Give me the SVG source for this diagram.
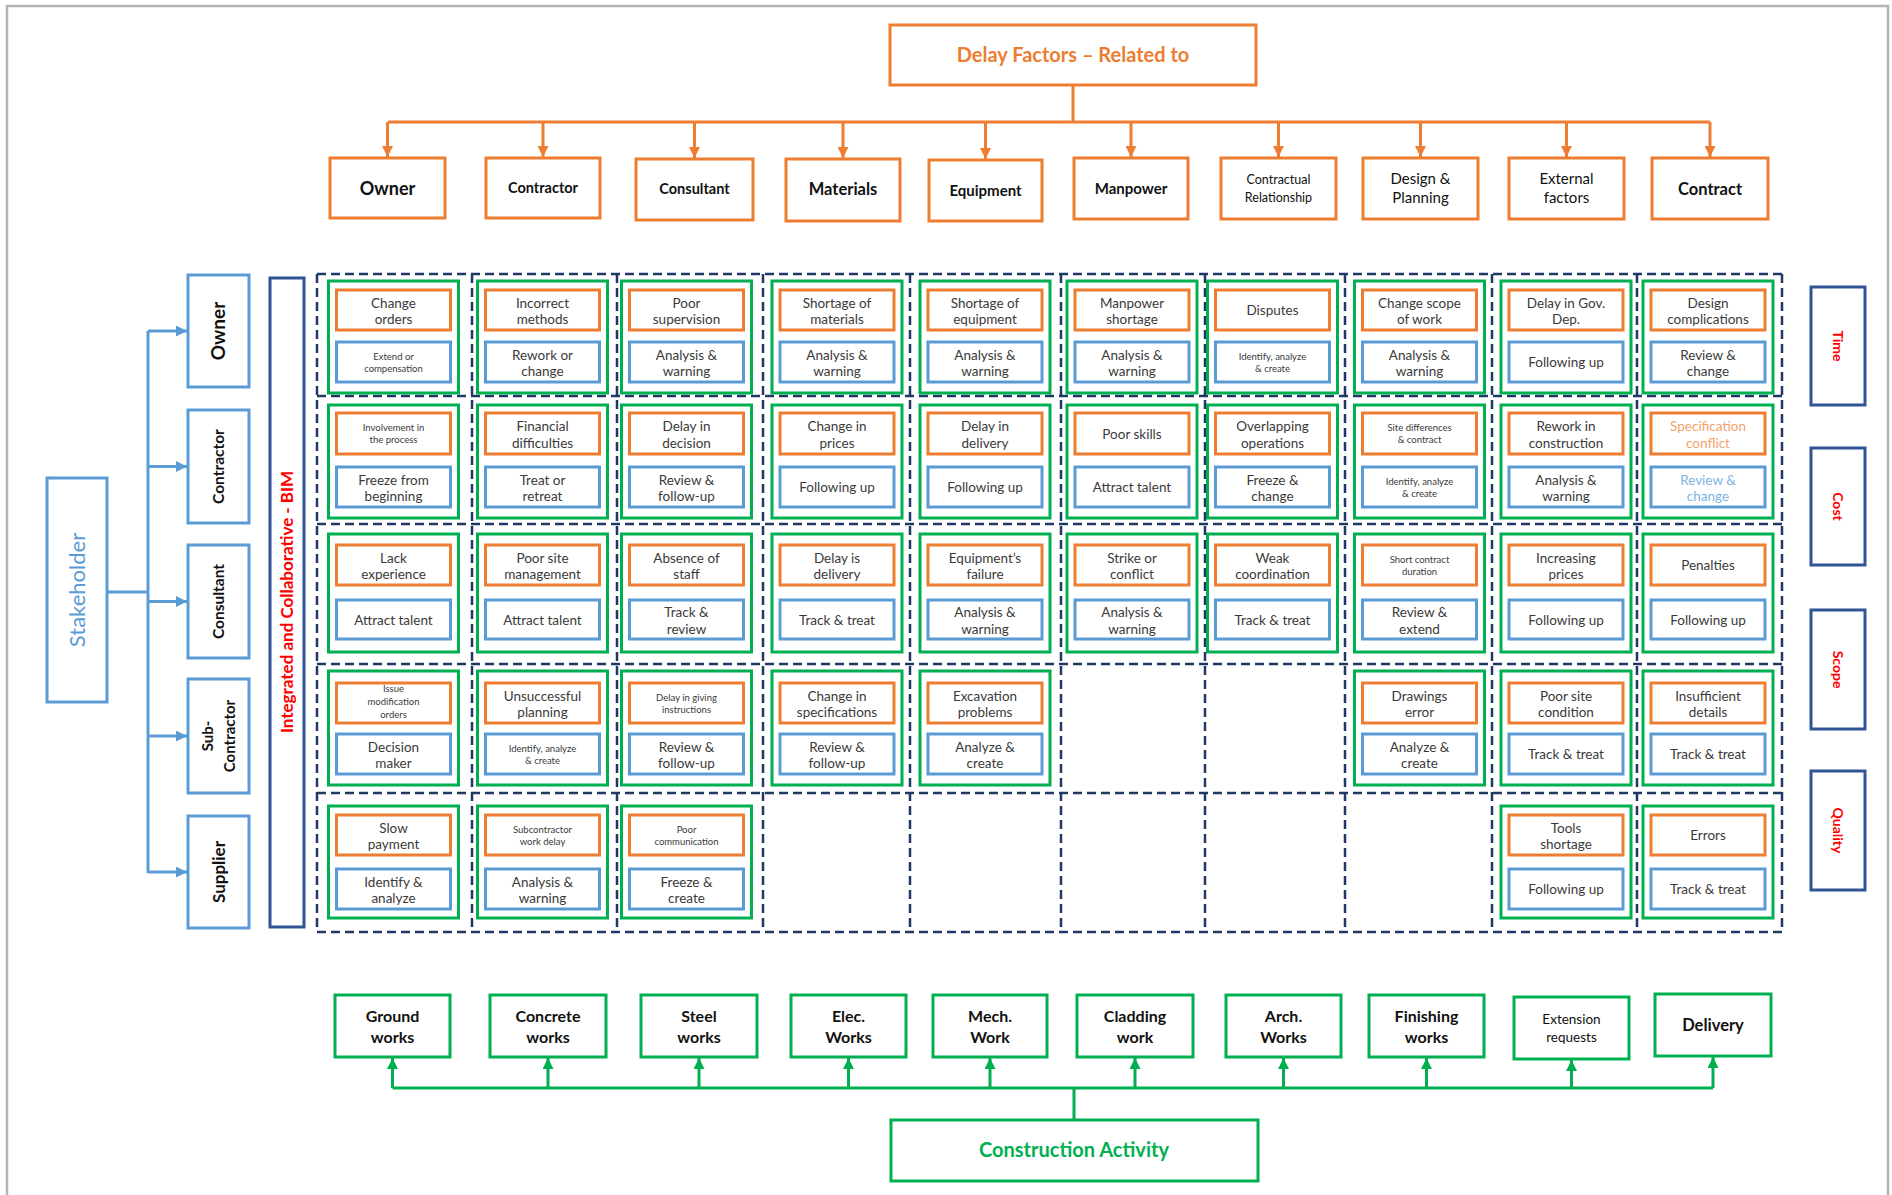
<svg xmlns="http://www.w3.org/2000/svg" width="1892" height="1195" viewBox="0 0 1892 1195">
<defs>
<style>
.g{fill:none;stroke:#00B050;stroke-width:3}
.o{fill:#fff;stroke:#ED7D31;stroke-width:3}
.b{fill:#fff;stroke:#5B9BD5;stroke-width:3}
.n{fill:#fff;stroke:#2F5496;stroke-width:3}
.d{fill:none;stroke:#1F3864;stroke-width:2.5;stroke-dasharray:9 5}
.t{font-family:Lato,"Liberation Sans",sans-serif;font-size:13.5px;fill:#3a3a3a;text-anchor:middle}
.s{font-size:9.5px}
.h{font-family:Lato,"Liberation Sans",sans-serif;font-weight:bold;fill:#111;text-anchor:middle}
.hn{font-family:Lato,"Liberation Sans",sans-serif;fill:#111;text-anchor:middle}
.oc{fill:none;stroke:#ED7D31;stroke-width:3}
.bc{fill:none;stroke:#5B9BD5;stroke-width:3}
.gc{fill:none;stroke:#00B050;stroke-width:3}
.red{font-family:Lato,"Liberation Sans",sans-serif;font-weight:bold;fill:#FF0000;text-anchor:middle}
</style>
<marker id="ao" viewBox="0 0 10 10" refX="10" refY="5" markerWidth="11" markerHeight="11" markerUnits="userSpaceOnUse" orient="auto"><path d="M0,0 L10,5 L0,10 z" fill="#ED7D31"/></marker>
<marker id="ab" viewBox="0 0 10 10" refX="10" refY="5" markerWidth="11" markerHeight="11" markerUnits="userSpaceOnUse" orient="auto"><path d="M0,0 L10,5 L0,10 z" fill="#5B9BD5"/></marker>
<marker id="ag" viewBox="0 0 10 10" refX="10" refY="5" markerWidth="11" markerHeight="11" markerUnits="userSpaceOnUse" orient="auto"><path d="M0,0 L10,5 L0,10 z" fill="#00B050"/></marker>
</defs>
<rect x="0" y="0" width="1892" height="1195" fill="#fff"/>
<rect x="7" y="6" width="1881" height="1200" fill="none" stroke="#b4b4b4" stroke-width="2.5"/>

<!-- Connectors -->
<g id="connectors">
<path class="oc" d="M1073 85 V122 M388 122 H1710"/>
<path class="oc" marker-end="url(#ao)" d="M387.5 122 V157"/>
<path class="oc" marker-end="url(#ao)" d="M543 122 V157"/>
<path class="oc" marker-end="url(#ao)" d="M694.5 122 V158"/>
<path class="oc" marker-end="url(#ao)" d="M843 122 V158"/>
<path class="oc" marker-end="url(#ao)" d="M985.5 122 V159"/>
<path class="oc" marker-end="url(#ao)" d="M1131 122 V157"/>
<path class="oc" marker-end="url(#ao)" d="M1278.5 122 V157"/>
<path class="oc" marker-end="url(#ao)" d="M1420.5 122 V157"/>
<path class="oc" marker-end="url(#ao)" d="M1566.5 122 V157"/>
<path class="oc" marker-end="url(#ao)" d="M1710 122 V157"/>
<path class="bc" d="M107 592 H148 M148 331 V873"/>
<path class="bc" marker-end="url(#ab)" d="M148 331 H187"/>
<path class="bc" marker-end="url(#ab)" d="M148 466.5 H187"/>
<path class="bc" marker-end="url(#ab)" d="M148 601.5 H187"/>
<path class="bc" marker-end="url(#ab)" d="M148 736 H187"/>
<path class="bc" marker-end="url(#ab)" d="M148 872 H187"/>
<path class="gc" d="M1074 1120 V1088 M392.5 1088 H1713"/>
<path class="gc" marker-end="url(#ag)" d="M392.5 1088 V1058"/>
<path class="gc" marker-end="url(#ag)" d="M548 1088 V1058"/>
<path class="gc" marker-end="url(#ag)" d="M699 1088 V1058"/>
<path class="gc" marker-end="url(#ag)" d="M848.5 1088 V1058"/>
<path class="gc" marker-end="url(#ag)" d="M990 1088 V1058"/>
<path class="gc" marker-end="url(#ag)" d="M1135 1088 V1058"/>
<path class="gc" marker-end="url(#ag)" d="M1283.5 1088 V1058"/>
<path class="gc" marker-end="url(#ag)" d="M1426.5 1088 V1058"/>
<path class="gc" marker-end="url(#ag)" d="M1571.5 1088 V1060"/>
<path class="gc" marker-end="url(#ag)" d="M1713 1088 V1057"/>
</g>

<!-- Header -->
<g id="delay-factors"><rect class="o" x="890" y="25" width="366" height="60"/><text class="h" x="1073" y="62" style="font-size:20px;fill:#ED7D31">Delay Factors – Related to</text></g>
<g id="h-owner"><rect class="o" x="330" y="158" width="115" height="60"/><text class="h" x="387.5" y="195" style="font-size:18px">Owner</text></g>
<g id="h-contractor"><rect class="o" x="486" y="158" width="114" height="60"/><text class="h" x="543" y="193" style="font-size:14.5px">Contractor</text></g>
<g id="h-consultant"><rect class="o" x="636" y="159" width="117" height="61"/><text class="h" x="694.5" y="194" style="font-size:14.5px">Consultant</text></g>
<g id="h-materials"><rect class="o" x="786" y="159" width="114" height="62"/><text class="h" x="843" y="195" style="font-size:16.5px">Materials</text></g>
<g id="h-equipment"><rect class="o" x="929" y="160" width="113" height="61"/><text class="h" x="985.5" y="196" style="font-size:15px">Equipment</text></g>
<g id="h-manpower"><rect class="o" x="1074" y="158" width="114" height="61"/><text class="h" x="1131" y="194" style="font-size:15px">Manpower</text></g>
<g id="h-contractual"><rect class="o" x="1221" y="158" width="115" height="61"/><text class="hn" x="1278.5" y="184" style="font-size:12.5px">Contractual<tspan x="1278.5" dy="18">Relationship</tspan></text></g>
<g id="h-design"><rect class="o" x="1363" y="158" width="115" height="61"/><text class="hn" x="1420.5" y="184" style="font-size:15px">Design &amp;<tspan x="1420.5" dy="19">Planning</tspan></text></g>
<g id="h-external"><rect class="o" x="1509" y="158" width="115" height="61"/><text class="hn" x="1566.5" y="184" style="font-size:15px">External<tspan x="1566.5" dy="19">factors</tspan></text></g>
<g id="h-contract"><rect class="o" x="1652" y="158" width="116" height="61"/><text class="h" x="1710" y="195" style="font-size:16.5px">Contract</text></g>

<!-- Stakeholders -->
<g id="stakeholder"><rect class="b" x="47" y="478" width="60" height="224"/><text class="hn" transform="translate(77,590) rotate(-90)" y="7.5" style="font-size:22px;fill:#5B9BD5">Stakeholder</text></g>
<g id="s-owner"><rect class="b" x="188" y="275" width="61" height="112"/><text class="h" transform="translate(218.5,331) rotate(-90)" y="6.5" style="font-size:19px">Owner</text></g>
<g id="s-contractor"><rect class="b" x="188" y="410" width="61" height="113"/><text class="h" transform="translate(218.5,466.5) rotate(-90)" y="5.5" style="font-size:15.5px">Contractor</text></g>
<g id="s-consultant"><rect class="b" x="188" y="545" width="61" height="113"/><text class="h" transform="translate(218.5,601.5) rotate(-90)" y="5.5" style="font-size:15.5px">Consultant</text></g>
<g id="s-subcontractor"><rect class="b" x="188" y="679" width="61" height="114"/><text class="h" transform="translate(218.5,736) rotate(-90)" y="-6" style="font-size:15px">Sub-<tspan x="0" dy="22">Contractor</tspan></text></g>
<g id="s-supplier"><rect class="b" x="188" y="816" width="61" height="112"/><text class="h" transform="translate(218.5,872) rotate(-90)" y="6" style="font-size:17px">Supplier</text></g>
<g id="bim"><rect class="n" x="270" y="278" width="34" height="649"/><text class="red" transform="translate(287,602) rotate(-90)" y="6" style="font-size:17px">Integrated and Collaborative - BIM</text></g>

<!-- Right labels -->
<g id="time"><rect class="n" x="1811" y="287" width="54" height="118"/><text class="red" transform="translate(1838,346) rotate(90)" y="5" style="font-size:14px">Time</text></g>
<g id="cost"><rect class="n" x="1811" y="448" width="54" height="117"/><text class="red" transform="translate(1838,506.5) rotate(90)" y="5" style="font-size:14px">Cost</text></g>
<g id="scope"><rect class="n" x="1811" y="610" width="54" height="119"/><text class="red" transform="translate(1838,669.5) rotate(90)" y="5" style="font-size:14px">Scope</text></g>
<g id="quality"><rect class="n" x="1811" y="771" width="54" height="119"/><text class="red" transform="translate(1838,830.5) rotate(90)" y="5" style="font-size:14px">Quality</text></g>

<!-- Grid -->
<g id="grid">
<path class="d" d="M317 274 H1782 M317 396 H1782 M317 524 H1782 M317 664 H1782 M317 793 H1782 M317 932 H1782"/>
<path class="d" d="M317 274 V932 M472 274 V932 M617 274 V932 M763 274 V932 M910 274 V932 M1061 274 V932 M1205 274 V932 M1345 274 V932 M1492 274 V932 M1637 274 V932 M1782 274 V932"/>
</g>

<!-- Row 1 -->
<g id="r1c1"><rect class="g" x="328.5" y="281" width="130" height="112"/><rect class="o" x="336.5" y="290" width="114" height="40"/><rect class="b" x="336.5" y="342" width="114" height="40"/>
<text class="t" x="393.5" y="307.5">Change<tspan x="393.5" dy="16.5">orders</tspan></text><text class="t s" x="393.5" y="359.5">Extend  or<tspan x="393.5" dy="12">compensation</tspan></text></g>
<g id="r1c2"><rect class="g" x="477.5" y="281" width="130" height="112"/><rect class="o" x="485.5" y="290" width="114" height="40"/><rect class="b" x="485.5" y="342" width="114" height="40"/>
<text class="t" x="542.5" y="307.5">Incorrect<tspan x="542.5" dy="16.5">methods</tspan></text><text class="t" x="542.5" y="359.5">Rework or<tspan x="542.5" dy="16.5">change</tspan></text></g>
<g id="r1c3"><rect class="g" x="621.5" y="281" width="130" height="112"/><rect class="o" x="629.5" y="290" width="114" height="40"/><rect class="b" x="629.5" y="342" width="114" height="40"/>
<text class="t" x="686.5" y="307.5">Poor<tspan x="686.5" dy="16.5">supervision</tspan></text><text class="t" x="686.5" y="359.5">Analysis &amp;<tspan x="686.5" dy="16.5">warning</tspan></text></g>
<g id="r1c4"><rect class="g" x="772" y="281" width="130" height="112"/><rect class="o" x="780" y="290" width="114" height="40"/><rect class="b" x="780" y="342" width="114" height="40"/>
<text class="t" x="837" y="307.5">Shortage of<tspan x="837" dy="16.5">materials</tspan></text><text class="t" x="837" y="359.5">Analysis &amp;<tspan x="837" dy="16.5">warning</tspan></text></g>
<g id="r1c5"><rect class="g" x="920" y="281" width="130" height="112"/><rect class="o" x="928" y="290" width="114" height="40"/><rect class="b" x="928" y="342" width="114" height="40"/>
<text class="t" x="985" y="307.5">Shortage of<tspan x="985" dy="16.5">equipment</tspan></text><text class="t" x="985" y="359.5">Analysis &amp;<tspan x="985" dy="16.5">warning</tspan></text></g>
<g id="r1c6"><rect class="g" x="1067" y="281" width="130" height="112"/><rect class="o" x="1075" y="290" width="114" height="40"/><rect class="b" x="1075" y="342" width="114" height="40"/>
<text class="t" x="1132" y="307.5">Manpower<tspan x="1132" dy="16.5">shortage</tspan></text><text class="t" x="1132" y="359.5">Analysis &amp;<tspan x="1132" dy="16.5">warning</tspan></text></g>
<g id="r1c7"><rect class="g" x="1207.5" y="281" width="130" height="112"/><rect class="o" x="1215.5" y="290" width="114" height="40"/><rect class="b" x="1215.5" y="342" width="114" height="40"/>
<text class="t" x="1272.5" y="315">Disputes</text><text class="t s" x="1272.5" y="359.5">Identify, analyze<tspan x="1272.5" dy="12">&amp; create</tspan></text></g>
<g id="r1c8"><rect class="g" x="1354.5" y="281" width="130" height="112"/><rect class="o" x="1362.5" y="290" width="114" height="40"/><rect class="b" x="1362.5" y="342" width="114" height="40"/>
<text class="t" x="1419.5" y="307.5">Change scope<tspan x="1419.5" dy="16.5">of work</tspan></text><text class="t" x="1419.5" y="359.5">Analysis &amp;<tspan x="1419.5" dy="16.5">warning</tspan></text></g>
<g id="r1c9"><rect class="g" x="1501" y="281" width="130" height="112"/><rect class="o" x="1509" y="290" width="114" height="40"/><rect class="b" x="1509" y="342" width="114" height="40"/>
<text class="t" x="1566" y="307.5">Delay in Gov.<tspan x="1566" dy="16.5">Dep.</tspan></text><text class="t" x="1566" y="367">Following up</text></g>
<g id="r1c10"><rect class="g" x="1643" y="281" width="130" height="112"/><rect class="o" x="1651" y="290" width="114" height="40"/><rect class="b" x="1651" y="342" width="114" height="40"/>
<text class="t" x="1708" y="307.5">Design<tspan x="1708" dy="16.5">complications</tspan></text><text class="t" x="1708" y="359.5">Review &amp;<tspan x="1708" dy="16.5">change</tspan></text></g>

<!-- Row 2 -->
<g id="r2c1"><rect class="g" x="328.5" y="405" width="130" height="113"/><rect class="o" x="336.5" y="413" width="114" height="41"/><rect class="b" x="336.5" y="467" width="114" height="40"/>
<text class="t s" x="393.5" y="431">Involvement  in<tspan x="393.5" dy="12">the process</tspan></text><text class="t" x="393.5" y="484.5">Freeze from<tspan x="393.5" dy="16.5">beginning</tspan></text></g>
<g id="r2c2"><rect class="g" x="477.5" y="405" width="130" height="113"/><rect class="o" x="485.5" y="413" width="114" height="41"/><rect class="b" x="485.5" y="467" width="114" height="40"/>
<text class="t" x="542.5" y="431">Financial<tspan x="542.5" dy="16.5">difficulties</tspan></text><text class="t" x="542.5" y="484.5">Treat or<tspan x="542.5" dy="16.5">retreat</tspan></text></g>
<g id="r2c3"><rect class="g" x="621.5" y="405" width="130" height="113"/><rect class="o" x="629.5" y="413" width="114" height="41"/><rect class="b" x="629.5" y="467" width="114" height="40"/>
<text class="t" x="686.5" y="431">Delay in<tspan x="686.5" dy="16.5">decision</tspan></text><text class="t" x="686.5" y="484.5">Review &amp;<tspan x="686.5" dy="16.5">follow-up</tspan></text></g>
<g id="r2c4"><rect class="g" x="772" y="405" width="130" height="113"/><rect class="o" x="780" y="413" width="114" height="41"/><rect class="b" x="780" y="467" width="114" height="40"/>
<text class="t" x="837" y="431">Change in<tspan x="837" dy="16.5">prices</tspan></text><text class="t" x="837" y="492">Following up</text></g>
<g id="r2c5"><rect class="g" x="920" y="405" width="130" height="113"/><rect class="o" x="928" y="413" width="114" height="41"/><rect class="b" x="928" y="467" width="114" height="40"/>
<text class="t" x="985" y="431">Delay in<tspan x="985" dy="16.5">delivery</tspan></text><text class="t" x="985" y="492">Following up</text></g>
<g id="r2c6"><rect class="g" x="1067" y="405" width="130" height="113"/><rect class="o" x="1075" y="413" width="114" height="41"/><rect class="b" x="1075" y="467" width="114" height="40"/>
<text class="t" x="1132" y="438.5">Poor skills</text><text class="t" x="1132" y="492">Attract talent</text></g>
<g id="r2c7"><rect class="g" x="1207.5" y="405" width="130" height="113"/><rect class="o" x="1215.5" y="413" width="114" height="41"/><rect class="b" x="1215.5" y="467" width="114" height="40"/>
<text class="t" x="1272.5" y="431">Overlapping<tspan x="1272.5" dy="16.5">operations</tspan></text><text class="t" x="1272.5" y="484.5">Freeze &amp;<tspan x="1272.5" dy="16.5">change</tspan></text></g>
<g id="r2c8"><rect class="g" x="1354.5" y="405" width="130" height="113"/><rect class="o" x="1362.5" y="413" width="114" height="41"/><rect class="b" x="1362.5" y="467" width="114" height="40"/>
<text class="t s" x="1419.5" y="431">Site differences<tspan x="1419.5" dy="12">&amp; contract</tspan></text><text class="t s" x="1419.5" y="484.5">Identify, analyze<tspan x="1419.5" dy="12">&amp; create</tspan></text></g>
<g id="r2c9"><rect class="g" x="1501" y="405" width="130" height="113"/><rect class="o" x="1509" y="413" width="114" height="41"/><rect class="b" x="1509" y="467" width="114" height="40"/>
<text class="t" x="1566" y="431">Rework in<tspan x="1566" dy="16.5">construction</tspan></text><text class="t" x="1566" y="484.5">Analysis &amp;<tspan x="1566" dy="16.5">warning</tspan></text></g>
<g id="r2c10"><rect class="g" x="1643" y="405" width="130" height="113"/><rect class="o" x="1651" y="413" width="114" height="41"/><rect class="b" x="1651" y="467" width="114" height="40"/>
<text class="t" x="1708" y="431" style="fill:#F4A16B">Specification<tspan x="1708" dy="16.5">conflict</tspan></text><text class="t" x="1708" y="484.5" style="fill:#7DB3E3">Review &amp;<tspan x="1708" dy="16.5">change</tspan></text></g>

<!-- Row 3 -->
<g id="r3c1"><rect class="g" x="328.5" y="534" width="130" height="118"/><rect class="o" x="336.5" y="545" width="114" height="40"/><rect class="b" x="336.5" y="600" width="114" height="39"/>
<text class="t" x="393.5" y="562.5">Lack<tspan x="393.5" dy="16.5">experience</tspan></text><text class="t" x="393.5" y="624.5">Attract talent</text></g>
<g id="r3c2"><rect class="g" x="477.5" y="534" width="130" height="118"/><rect class="o" x="485.5" y="545" width="114" height="40"/><rect class="b" x="485.5" y="600" width="114" height="39"/>
<text class="t" x="542.5" y="562.5">Poor site<tspan x="542.5" dy="16.5">management</tspan></text><text class="t" x="542.5" y="624.5">Attract talent</text></g>
<g id="r3c3"><rect class="g" x="621.5" y="534" width="130" height="118"/><rect class="o" x="629.5" y="545" width="114" height="40"/><rect class="b" x="629.5" y="600" width="114" height="39"/>
<text class="t" x="686.5" y="562.5">Absence of<tspan x="686.5" dy="16.5">staff</tspan></text><text class="t" x="686.5" y="617">Track &amp;<tspan x="686.5" dy="16.5">review</tspan></text></g>
<g id="r3c4"><rect class="g" x="772" y="534" width="130" height="118"/><rect class="o" x="780" y="545" width="114" height="40"/><rect class="b" x="780" y="600" width="114" height="39"/>
<text class="t" x="837" y="562.5">Delay is<tspan x="837" dy="16.5">delivery</tspan></text><text class="t" x="837" y="624.5">Track &amp; treat</text></g>
<g id="r3c5"><rect class="g" x="920" y="534" width="130" height="118"/><rect class="o" x="928" y="545" width="114" height="40"/><rect class="b" x="928" y="600" width="114" height="39"/>
<text class="t" x="985" y="562.5">Equipment’s<tspan x="985" dy="16.5">failure</tspan></text><text class="t" x="985" y="617">Analysis &amp;<tspan x="985" dy="16.5">warning</tspan></text></g>
<g id="r3c6"><rect class="g" x="1067" y="534" width="130" height="118"/><rect class="o" x="1075" y="545" width="114" height="40"/><rect class="b" x="1075" y="600" width="114" height="39"/>
<text class="t" x="1132" y="562.5">Strike or<tspan x="1132" dy="16.5">conflict</tspan></text><text class="t" x="1132" y="617">Analysis &amp;<tspan x="1132" dy="16.5">warning</tspan></text></g>
<g id="r3c7"><rect class="g" x="1207.5" y="534" width="130" height="118"/><rect class="o" x="1215.5" y="545" width="114" height="40"/><rect class="b" x="1215.5" y="600" width="114" height="39"/>
<text class="t" x="1272.5" y="562.5">Weak<tspan x="1272.5" dy="16.5">coordination</tspan></text><text class="t" x="1272.5" y="624.5">Track &amp; treat</text></g>
<g id="r3c8"><rect class="g" x="1354.5" y="534" width="130" height="118"/><rect class="o" x="1362.5" y="545" width="114" height="40"/><rect class="b" x="1362.5" y="600" width="114" height="39"/>
<text class="t s" x="1419.5" y="562.5">Short contract<tspan x="1419.5" dy="12">duration</tspan></text><text class="t" x="1419.5" y="617">Review &amp;<tspan x="1419.5" dy="16.5">extend</tspan></text></g>
<g id="r3c9"><rect class="g" x="1501" y="534" width="130" height="118"/><rect class="o" x="1509" y="545" width="114" height="40"/><rect class="b" x="1509" y="600" width="114" height="39"/>
<text class="t" x="1566" y="562.5">Increasing<tspan x="1566" dy="16.5">prices</tspan></text><text class="t" x="1566" y="624.5">Following up</text></g>
<g id="r3c10"><rect class="g" x="1643" y="534" width="130" height="118"/><rect class="o" x="1651" y="545" width="114" height="40"/><rect class="b" x="1651" y="600" width="114" height="39"/>
<text class="t" x="1708" y="570">Penalties</text><text class="t" x="1708" y="624.5">Following up</text></g>

<!-- Row 4 -->
<g id="r4c1"><rect class="g" x="328.5" y="671" width="130" height="114"/><rect class="o" x="336.5" y="683" width="114" height="40"/><rect class="b" x="336.5" y="734" width="114" height="40"/>
<text class="t s" x="393.5" y="692">Issue<tspan x="393.5" dy="13">modification</tspan><tspan x="393.5" dy="13">orders</tspan></text><text class="t" x="393.5" y="751.5">Decision<tspan x="393.5" dy="16.5">maker</tspan></text></g>
<g id="r4c2"><rect class="g" x="477.5" y="671" width="130" height="114"/><rect class="o" x="485.5" y="683" width="114" height="40"/><rect class="b" x="485.5" y="734" width="114" height="40"/>
<text class="t" x="542.5" y="700.5">Unsuccessful<tspan x="542.5" dy="16.5">planning</tspan></text><text class="t s" x="542.5" y="751.5">Identify, analyze<tspan x="542.5" dy="12">&amp; create</tspan></text></g>
<g id="r4c3"><rect class="g" x="621.5" y="671" width="130" height="114"/><rect class="o" x="629.5" y="683" width="114" height="40"/><rect class="b" x="629.5" y="734" width="114" height="40"/>
<text class="t s" x="686.5" y="700.5">Delay in giving<tspan x="686.5" dy="12">instructions</tspan></text><text class="t" x="686.5" y="751.5">Review &amp;<tspan x="686.5" dy="16.5">follow-up</tspan></text></g>
<g id="r4c4"><rect class="g" x="772" y="671" width="130" height="114"/><rect class="o" x="780" y="683" width="114" height="40"/><rect class="b" x="780" y="734" width="114" height="40"/>
<text class="t" x="837" y="700.5">Change in<tspan x="837" dy="16.5">specifications</tspan></text><text class="t" x="837" y="751.5">Review &amp;<tspan x="837" dy="16.5">follow-up</tspan></text></g>
<g id="r4c5"><rect class="g" x="920" y="671" width="130" height="114"/><rect class="o" x="928" y="683" width="114" height="40"/><rect class="b" x="928" y="734" width="114" height="40"/>
<text class="t" x="985" y="700.5">Excavation<tspan x="985" dy="16.5">problems</tspan></text><text class="t" x="985" y="751.5">Analyze &amp;<tspan x="985" dy="16.5">create</tspan></text></g>
<g id="r4c8"><rect class="g" x="1354.5" y="671" width="130" height="114"/><rect class="o" x="1362.5" y="683" width="114" height="40"/><rect class="b" x="1362.5" y="734" width="114" height="40"/>
<text class="t" x="1419.5" y="700.5">Drawings<tspan x="1419.5" dy="16.5">error</tspan></text><text class="t" x="1419.5" y="751.5">Analyze &amp;<tspan x="1419.5" dy="16.5">create</tspan></text></g>
<g id="r4c9"><rect class="g" x="1501" y="671" width="130" height="114"/><rect class="o" x="1509" y="683" width="114" height="40"/><rect class="b" x="1509" y="734" width="114" height="40"/>
<text class="t" x="1566" y="700.5">Poor site<tspan x="1566" dy="16.5">condition</tspan></text><text class="t" x="1566" y="759">Track &amp; treat</text></g>
<g id="r4c10"><rect class="g" x="1643" y="671" width="130" height="114"/><rect class="o" x="1651" y="683" width="114" height="40"/><rect class="b" x="1651" y="734" width="114" height="40"/>
<text class="t" x="1708" y="700.5">Insufficient<tspan x="1708" dy="16.5">details</tspan></text><text class="t" x="1708" y="759">Track &amp; treat</text></g>

<!-- Row 5 -->
<g id="r5c1"><rect class="g" x="328.5" y="806" width="130" height="112"/><rect class="o" x="336.5" y="815" width="114" height="40"/><rect class="b" x="336.5" y="869" width="114" height="40"/>
<text class="t" x="393.5" y="832.5">Slow<tspan x="393.5" dy="16.5">payment</tspan></text><text class="t" x="393.5" y="886.5">Identify &amp;<tspan x="393.5" dy="16.5">analyze</tspan></text></g>
<g id="r5c2"><rect class="g" x="477.5" y="806" width="130" height="112"/><rect class="o" x="485.5" y="815" width="114" height="40"/><rect class="b" x="485.5" y="869" width="114" height="40"/>
<text class="t s" x="542.5" y="832.5">Subcontractor<tspan x="542.5" dy="12">work  delay</tspan></text><text class="t" x="542.5" y="886.5">Analysis &amp;<tspan x="542.5" dy="16.5">warning</tspan></text></g>
<g id="r5c3"><rect class="g" x="621.5" y="806" width="130" height="112"/><rect class="o" x="629.5" y="815" width="114" height="40"/><rect class="b" x="629.5" y="869" width="114" height="40"/>
<text class="t s" x="686.5" y="832.5">Poor<tspan x="686.5" dy="12">communication</tspan></text><text class="t" x="686.5" y="886.5">Freeze &amp;<tspan x="686.5" dy="16.5">create</tspan></text></g>
<g id="r5c9"><rect class="g" x="1501" y="806" width="130" height="112"/><rect class="o" x="1509" y="815" width="114" height="40"/><rect class="b" x="1509" y="869" width="114" height="40"/>
<text class="t" x="1566" y="832.5">Tools<tspan x="1566" dy="16.5">shortage</tspan></text><text class="t" x="1566" y="894">Following up</text></g>
<g id="r5c10"><rect class="g" x="1643" y="806" width="130" height="112"/><rect class="o" x="1651" y="815" width="114" height="40"/><rect class="b" x="1651" y="869" width="114" height="40"/>
<text class="t" x="1708" y="840">Errors</text><text class="t" x="1708" y="894">Track &amp; treat</text></g>

<!-- Bottom: construction activities -->
<g id="a-ground"><rect class="g" x="335" y="995" width="115" height="62"/><text class="h" x="392.5" y="1022" style="font-size:16px">Ground<tspan x="392.5" dy="21">works</tspan></text></g>
<g id="a-concrete"><rect class="g" x="490" y="995" width="116" height="62"/><text class="h" x="548" y="1022" style="font-size:16px">Concrete<tspan x="548" dy="21">works</tspan></text></g>
<g id="a-steel"><rect class="g" x="641" y="995" width="116" height="62"/><text class="h" x="699" y="1022" style="font-size:16px">Steel<tspan x="699" dy="21">works</tspan></text></g>
<g id="a-elec"><rect class="g" x="791" y="995" width="115" height="62"/><text class="h" x="848.5" y="1022" style="font-size:16px">Elec.<tspan x="848.5" dy="21">Works</tspan></text></g>
<g id="a-mech"><rect class="g" x="933" y="995" width="114" height="62"/><text class="h" x="990" y="1022" style="font-size:16px">Mech.<tspan x="990" dy="21">Work</tspan></text></g>
<g id="a-cladding"><rect class="g" x="1077" y="995" width="116" height="62"/><text class="h" x="1135" y="1022" style="font-size:16px">Cladding<tspan x="1135" dy="21">work</tspan></text></g>
<g id="a-arch"><rect class="g" x="1226" y="995" width="115" height="62"/><text class="h" x="1283.5" y="1022" style="font-size:16px">Arch.<tspan x="1283.5" dy="21">Works</tspan></text></g>
<g id="a-finishing"><rect class="g" x="1369" y="995" width="115" height="62"/><text class="h" x="1426.5" y="1022" style="font-size:16px">Finishing<tspan x="1426.5" dy="21">works</tspan></text></g>
<g id="a-extension"><rect class="g" x="1514" y="997" width="115" height="62"/><text class="hn" x="1571.5" y="1024" style="font-size:13.5px">Extension<tspan x="1571.5" dy="18">requests</tspan></text></g>
<g id="a-delivery"><rect class="g" x="1655" y="994" width="116" height="62"/><text class="h" x="1713" y="1031" style="font-size:16.5px">Delivery</text></g>
<g id="construction-activity"><rect class="g" x="891" y="1120" width="367" height="61"/><text class="h" x="1074" y="1157" style="font-size:20px;fill:#00B050">Construction Activity</text></g>
</svg>
